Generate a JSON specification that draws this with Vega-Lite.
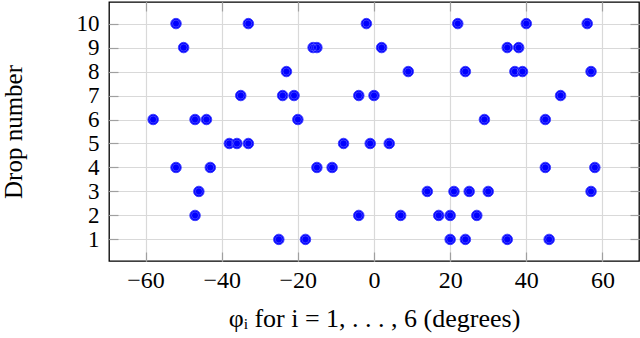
{
  "$schema": "https://vega.github.io/schema/vega-lite/v6.json",
  "width": 530,
  "height": 259,
  "autosize": "none",
  "padding": {"left": 109, "top": 2, "right": 1, "bottom": 77},
  "background": "#ffffff",
  "config": {
    "view": {"stroke": "#000000", "strokeWidth": 1.3},
    "font": "Liberation Serif"
  },
  "data": {
    "values": [
      {"phi": -25, "drop": 1}, {"phi": -18, "drop": 1}, {"phi": 20, "drop": 1}, {"phi": 24, "drop": 1}, {"phi": 35, "drop": 1}, {"phi": 46, "drop": 1},
      {"phi": -47, "drop": 2}, {"phi": -4, "drop": 2}, {"phi": 7, "drop": 2}, {"phi": 17, "drop": 2}, {"phi": 20, "drop": 2}, {"phi": 27, "drop": 2},
      {"phi": -46, "drop": 3}, {"phi": 14, "drop": 3}, {"phi": 21, "drop": 3}, {"phi": 25, "drop": 3}, {"phi": 30, "drop": 3}, {"phi": 57, "drop": 3},
      {"phi": -52, "drop": 4}, {"phi": -43, "drop": 4}, {"phi": -15, "drop": 4}, {"phi": -11, "drop": 4}, {"phi": 45, "drop": 4}, {"phi": 58, "drop": 4},
      {"phi": -38, "drop": 5}, {"phi": -36, "drop": 5}, {"phi": -33, "drop": 5}, {"phi": -8, "drop": 5}, {"phi": -1, "drop": 5}, {"phi": 4, "drop": 5},
      {"phi": -58, "drop": 6}, {"phi": -47, "drop": 6}, {"phi": -44, "drop": 6}, {"phi": -20, "drop": 6}, {"phi": 29, "drop": 6}, {"phi": 45, "drop": 6},
      {"phi": -35, "drop": 7}, {"phi": -24, "drop": 7}, {"phi": -21, "drop": 7}, {"phi": -4, "drop": 7}, {"phi": 0, "drop": 7}, {"phi": 49, "drop": 7},
      {"phi": -23, "drop": 8}, {"phi": 9, "drop": 8}, {"phi": 24, "drop": 8}, {"phi": 37, "drop": 8}, {"phi": 39, "drop": 8}, {"phi": 57, "drop": 8},
      {"phi": -50, "drop": 9}, {"phi": -16, "drop": 9}, {"phi": -15, "drop": 9}, {"phi": 2, "drop": 9}, {"phi": 35, "drop": 9}, {"phi": 38, "drop": 9},
      {"phi": -52, "drop": 10}, {"phi": -33, "drop": 10}, {"phi": -2, "drop": 10}, {"phi": 22, "drop": 10}, {"phi": 40, "drop": 10}, {"phi": 56, "drop": 10}
    ]
  },
  "layer": [
    {
      "mark": {"type": "point", "shape": "circle", "filled": true, "size": 110, "fill": "#0000ff", "stroke": "#4040ff", "strokeWidth": 1, "opacity": 1},
      "encoding": {
        "x": {
          "field": "phi", "type": "quantitative",
          "scale": {"domain": [-69.6, 69.6], "nice": false, "zero": false},
          "axis": {
            "orient": "bottom", "values": [-60, -40, -20, 0, 20, 40, 60], "offset": -9,
            "grid": true, "gridColor": "#d9d9d9", "gridWidth": 1.2,
            "domain": false, "ticks": true, "tickSize": 9, "tickColor": "#a0a0a0", "tickWidth": 1.2,
            "labelFont": "Liberation Serif", "labelFontSize": 24, "labelColor": "#000000", "labelPadding": 7, "labelOverlap": false,
            "title": "φᵢ for i = 1, . . . , 6 (degrees)",
            "titleFont": "Liberation Serif", "titleFontSize": 26, "titleFontWeight": "normal", "titleColor": "#000000", "titlePadding": 13
          }
        },
        "y": {
          "field": "drop", "type": "quantitative",
          "scale": {"domain": [0.1, 10.9], "nice": false, "zero": false},
          "axis": {
            "orient": "left", "values": [1, 2, 3, 4, 5, 6, 7, 8, 9, 10], "offset": -9,
            "grid": true, "gridColor": "#d9d9d9", "gridWidth": 1.2,
            "domain": false, "ticks": true, "tickSize": 9, "tickColor": "#a0a0a0", "tickWidth": 1.2,
            "labelFont": "Liberation Serif", "labelFontSize": 23, "labelColor": "#000000", "labelPadding": 10, "labelOverlap": false,
            "title": "Drop number",
            "titleFont": "Liberation Serif", "titleFontSize": 25, "titleFontWeight": "normal", "titleColor": "#000000", "titlePadding": 50
          }
        }
      }
    },
    {
      "mark": {"type": "point", "shape": "circle", "filled": false, "size": 50, "stroke": "#ffffff", "strokeWidth": 0.6, "strokeOpacity": 0.55},
      "encoding": {
        "x": {
          "field": "phi", "type": "quantitative",
          "axis": {"orient": "top", "values": [-60, -40, -20, 0, 20, 40, 60], "offset": -9, "grid": false, "domain": false, "labels": false, "title": null, "ticks": true, "tickSize": 9, "tickColor": "#a0a0a0", "tickWidth": 1.2}
        },
        "y": {
          "field": "drop", "type": "quantitative",
          "axis": {"orient": "right", "values": [1, 2, 3, 4, 5, 6, 7, 8, 9, 10], "offset": -9, "grid": false, "domain": false, "labels": false, "title": null, "ticks": true, "tickSize": 9, "tickColor": "#a0a0a0", "tickWidth": 1.2}
        }
      }
    }
  ],
  "resolve": {"axis": {"x": "independent", "y": "independent"}}
}
